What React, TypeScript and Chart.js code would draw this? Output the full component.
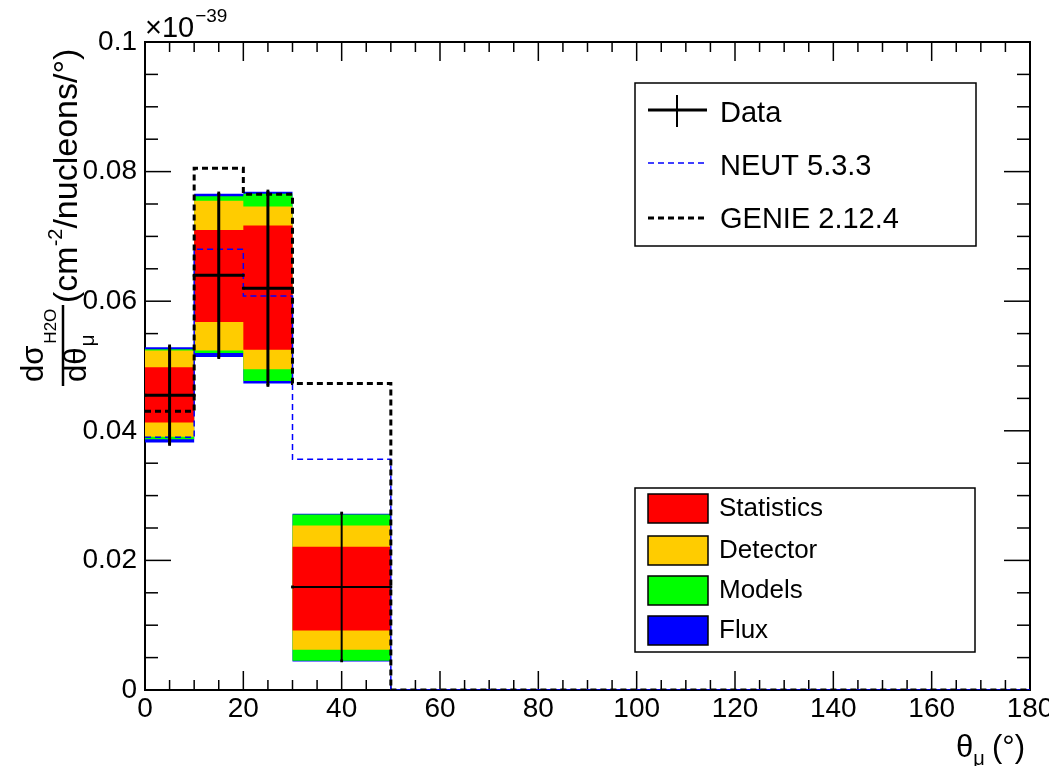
import React, { useEffect, useRef } from 'react';
import { Chart, registerables } from 'chart.js';

Chart.register(...registerables);

// ---- data ----
const binEdges = [0, 10, 20, 30, 50];
const dataValues = [0.0455, 0.064, 0.062, 0.0159];
const dataErrors = [0.0076, 0.0127, 0.015, 0.0114];

const statLow = [0.0413, 0.0568, 0.0525, 0.0092];
const statHigh = [0.0498, 0.071, 0.0717, 0.0221];
const detLow = [0.0391, 0.0524, 0.0495, 0.0062];
const detHigh = [0.0524, 0.0755, 0.0746, 0.0254];
const modelLow = [0.0387, 0.052, 0.0477, 0.0045];
const modelHigh = [0.0526, 0.0762, 0.0766, 0.0271];
const fluxLow = [0.0382, 0.0514, 0.0473, 0.0044];
const fluxHigh = [0.0529, 0.0766, 0.0769, 0.0272];

const modelEdges = [0, 10, 20, 30, 50, 180];
const neutValues = [0.039, 0.068, 0.0608, 0.0356, 0];
const genieValues = [0.043, 0.0805, 0.0765, 0.0473, 0];

const xTicks = [0, 20, 40, 60, 80, 100, 120, 140, 160, 180];
const xTickLabels = ['0', '20', '40', '60', '80', '100', '120', '140', '160', '180'];
const yTicks = [0, 0.02, 0.04, 0.06, 0.08, 0.1];
const yTickLabels = ['0', '0.02', '0.04', '0.06', '0.08', '0.1'];
const xMinorStep = 5;
const yMinorStep = 0.005;

const FONT = "'Liberation Sans', Arial, Helvetica, sans-serif";
const RED = '#ff0000';
const YELLOW = '#ffcc00';
const GREEN = '#00ff00';
const BLUE = '#0000ff';

function stepPoints(edges: number[], values: number[]) {
  const pts = values.map((v, i) => ({ x: edges[i], y: v }));
  pts.push({ x: edges[edges.length - 1], y: values[values.length - 1] });
  return pts;
}

function dataHorizontal() {
  const pts: any[] = [];
  dataValues.forEach((v, i) => {
    pts.push({ x: binEdges[i], y: v }, { x: binEdges[i + 1], y: v }, { x: binEdges[i + 1], y: null });
  });
  return pts;
}

function dataVertical() {
  const pts: any[] = [];
  dataValues.forEach((v, i) => {
    const c = (binEdges[i] + binEdges[i + 1]) / 2;
    pts.push({ x: c, y: v - dataErrors[i] }, { x: c, y: v + dataErrors[i] }, { x: c, y: null });
  });
  return pts;
}

function bandPair(high: number[], low: number[], color: string, idx: number, order: number) {
  return [
    {
      label: 'hi' + idx,
      data: stepPoints(binEdges, high),
      stepped: true,
      borderWidth: 0,
      borderColor: 'transparent',
      backgroundColor: color,
      pointRadius: 0,
      fill: idx + 1,
      order: order,
    },
    {
      label: 'lo' + idx,
      data: stepPoints(binEdges, low),
      stepped: true,
      borderWidth: 0,
      borderColor: 'transparent',
      backgroundColor: 'transparent',
      pointRadius: 0,
      fill: false,
      order: order - 1,
    },
  ];
}

function line(ctx: CanvasRenderingContext2D, x1: number, y1: number, x2: number, y2: number) {
  ctx.beginPath();
  ctx.moveTo(x1, y1);
  ctx.lineTo(x2, y2);
  ctx.stroke();
}

function rotText(ctx: CanvasRenderingContext2D, text: string, bx: number, by: number, size: number) {
  ctx.save();
  ctx.translate(bx, by);
  ctx.rotate(-Math.PI / 2);
  ctx.font = `${size}px ${FONT}`;
  ctx.textAlign = 'left';
  ctx.textBaseline = 'alphabetic';
  ctx.fillStyle = '#000';
  ctx.fillText(text, 0, 0);
  const w = ctx.measureText(text).width;
  ctx.restore();
  return w;
}

function text(ctx: CanvasRenderingContext2D, t: string, x: number, y: number, size: number) {
  ctx.font = `${size}px ${FONT}`;
  ctx.textAlign = 'left';
  ctx.textBaseline = 'alphabetic';
  ctx.fillStyle = '#000';
  ctx.fillText(t, x, y);
  return ctx.measureText(t).width;
}

const framePlugin = {
  id: 'rootFrame',
  beforeDatasetsDraw(chart: any) {
    const { ctx, chartArea: a, scales } = chart;
    const xs = scales.x;
    const ys = scales.y;
    ctx.save();
    ctx.strokeStyle = '#000';
    ctx.lineWidth = 1.5;
    for (let k = 0; k * xMinorStep <= 180 + 1e-9; k++) {
      const v = k * xMinorStep;
      const px = xs.getPixelForValue(v);
      const len = v % 20 === 0 ? 19 : 10;
      line(ctx, px, a.bottom, px, a.bottom - len);
      line(ctx, px, a.top, px, a.top + len);
    }
    for (let k = 0; k * yMinorStep <= 0.1 + 1e-9; k++) {
      const v = k * yMinorStep;
      const py = ys.getPixelForValue(v);
      const len = k % 4 === 0 ? 26 : 13;
      line(ctx, a.left, py, a.left + len, py);
      line(ctx, a.right, py, a.right - len, py);
    }
    ctx.lineWidth = 2;
    ctx.strokeRect(a.left, a.top, a.right - a.left, a.bottom - a.top);
    ctx.restore();
  },
  afterDraw(chart: any) {
    const ctx: CanvasRenderingContext2D = chart.ctx;
    ctx.save();
    ctx.strokeStyle = '#000';

    // exponent
    let w = text(ctx, '×10', 145, 37, 29);
    text(ctx, '−39', 145 + w + 1, 22, 19);

    // x title
    w = text(ctx, 'θ', 956, 757, 31);
    text(ctx, 'μ', 956 + w, 765, 20);
    text(ctx, '(°)', 992, 757, 31);

    // y title (rotated)
    const y0 = 382;
    w = rotText(ctx, 'dσ', 43, y0, 31);
    rotText(ctx, 'H2O', 56, y0 - w - 2, 17);
    ctx.lineWidth = 2.5;
    line(ctx, 63, 305, 63, 386);
    w = rotText(ctx, 'dθ', 86, y0, 31);
    rotText(ctx, 'μ', 94, y0 - w - 1, 21);
    let yy = 303;
    w = rotText(ctx, '(cm', 77, yy, 34);
    yy -= w;
    w = rotText(ctx, '-2', 62, yy, 20);
    yy -= w;
    rotText(ctx, '/nucleons/°)', 77, yy, 34);

    // legend 1
    ctx.lineWidth = 1.5;
    ctx.strokeStyle = '#000';
    ctx.strokeRect(635, 83, 341, 163);
    ctx.lineWidth = 3;
    line(ctx, 648, 110, 707, 110);
    ctx.lineWidth = 2;
    line(ctx, 677, 95, 677, 127);
    text(ctx, 'Data', 720, 122, 29);
    ctx.setLineDash([6, 4]);
    ctx.strokeStyle = BLUE;
    ctx.lineWidth = 1.5;
    line(ctx, 648, 163, 704, 163);
    ctx.strokeStyle = '#000';
    ctx.lineWidth = 3;
    line(ctx, 648, 218, 704, 218);
    ctx.setLineDash([]);
    text(ctx, 'NEUT 5.3.3', 720, 175, 29);
    text(ctx, 'GENIE 2.12.4', 720, 228, 29);

    // legend 2
    ctx.lineWidth = 1.5;
    ctx.strokeRect(635, 488, 340, 164);
    const rows = [
      { c: RED, t: 'Statistics', top: 494, base: 516 },
      { c: YELLOW, t: 'Detector', top: 536, base: 558 },
      { c: GREEN, t: 'Models', top: 576, base: 598 },
      { c: BLUE, t: 'Flux', top: 616, base: 638 },
    ];
    rows.forEach((r) => {
      ctx.fillStyle = r.c;
      ctx.fillRect(648, r.top, 60, 29);
      ctx.lineWidth = 1.5;
      ctx.strokeStyle = '#000';
      ctx.strokeRect(648, r.top, 60, 29);
      text(ctx, r.t, 719, r.base, 26);
    });
    ctx.restore();
  },
};

export default function App() {
  const ref = useRef<HTMLCanvasElement>(null);
  useEffect(() => {
    document.body.style.margin = '0';
    const datasets: any[] = [
      ...bandPair(fluxHigh, fluxLow, BLUE, 0, 14),
      ...bandPair(modelHigh, modelLow, GREEN, 2, 12),
      ...bandPair(detHigh, detLow, YELLOW, 4, 10),
      ...bandPair(statHigh, statLow, RED, 6, 8),
      {
        label: 'NEUT 5.3.3',
        data: stepPoints(modelEdges, neutValues),
        stepped: true,
        borderColor: BLUE,
        borderWidth: 1.5,
        borderDash: [6, 4],
        pointRadius: 0,
        fill: false,
        order: 3,
      },
      {
        label: 'GENIE 2.12.4',
        data: stepPoints(modelEdges, genieValues),
        stepped: true,
        borderColor: '#000',
        borderWidth: 3,
        borderDash: [6, 4],
        pointRadius: 0,
        fill: false,
        order: 2,
      },
      {
        label: 'Data',
        data: dataHorizontal(),
        borderColor: '#000',
        borderWidth: 3,
        segment: { borderWidth: (c: any) => (c.p0DataIndex >= 9 ? 2 : 3) },
        pointRadius: 2,
        pointStyle: 'rect',
        pointBackgroundColor: '#000',
        pointBorderWidth: 0,
        spanGaps: false,
        fill: false,
        order: 1,
      },
      {
        label: 'DataErr',
        data: dataVertical(),
        borderColor: '#000',
        borderWidth: 3,
        segment: { borderWidth: (c: any) => (c.p0DataIndex >= 9 ? 2 : 3) },
        pointRadius: 2,
        pointStyle: 'rect',
        pointBackgroundColor: '#000',
        pointBorderWidth: 0,
        spanGaps: false,
        fill: false,
        order: 0,
      },
    ];

    const chart = new Chart(ref.current as HTMLCanvasElement, {
      type: 'line',
      data: { datasets },
      options: {
        responsive: false,
        animation: false,
        devicePixelRatio: 1,
        layout: { padding: { top: 42, right: 19, left: 0, bottom: 0 } },
        plugins: { legend: { display: false }, tooltip: { enabled: false } },
        scales: {
          x: {
            type: 'linear',
            min: 0,
            max: 180,
            grid: { display: false, drawTicks: false },
            border: { display: false },
            afterBuildTicks: (s: any) => {
              s.ticks = xTicks.map((v) => ({ value: v }));
            },
            afterFit: (s: any) => {
              s.height = 76;
              s.paddingLeft = 0;
              s.paddingRight = 0;
            },
            ticks: {
              autoSkip: false,
              maxRotation: 0,
              padding: 2,
              color: '#000',
              font: { family: FONT, size: 28 },
              callback: (_v: any, i: number) => xTickLabels[i],
            },
          },
          y: {
            type: 'linear',
            min: 0,
            max: 0.1,
            grid: { display: false, drawTicks: false },
            border: { display: false },
            afterBuildTicks: (s: any) => {
              s.ticks = yTicks.map((v) => ({ value: v }));
            },
            afterFit: (s: any) => {
              s.width = 145;
              s.paddingTop = 0;
              s.paddingBottom = 0;
            },
            ticks: {
              padding: 8,
              color: '#000',
              font: { family: FONT, size: 28 },
              callback: (_v: any, i: number) => yTickLabels[i],
            },
          },
        },
      },
      plugins: [framePlugin],
    } as any);
    return () => chart.destroy();
  }, []);

  return (
    <div style={{ position: 'fixed', left: 0, top: 0, width: 1049, height: 766, background: '#fff' }}>
      <canvas ref={ref} width={1049} height={766} style={{ display: 'block', width: 1049, height: 766 }} />
    </div>
  );
}
